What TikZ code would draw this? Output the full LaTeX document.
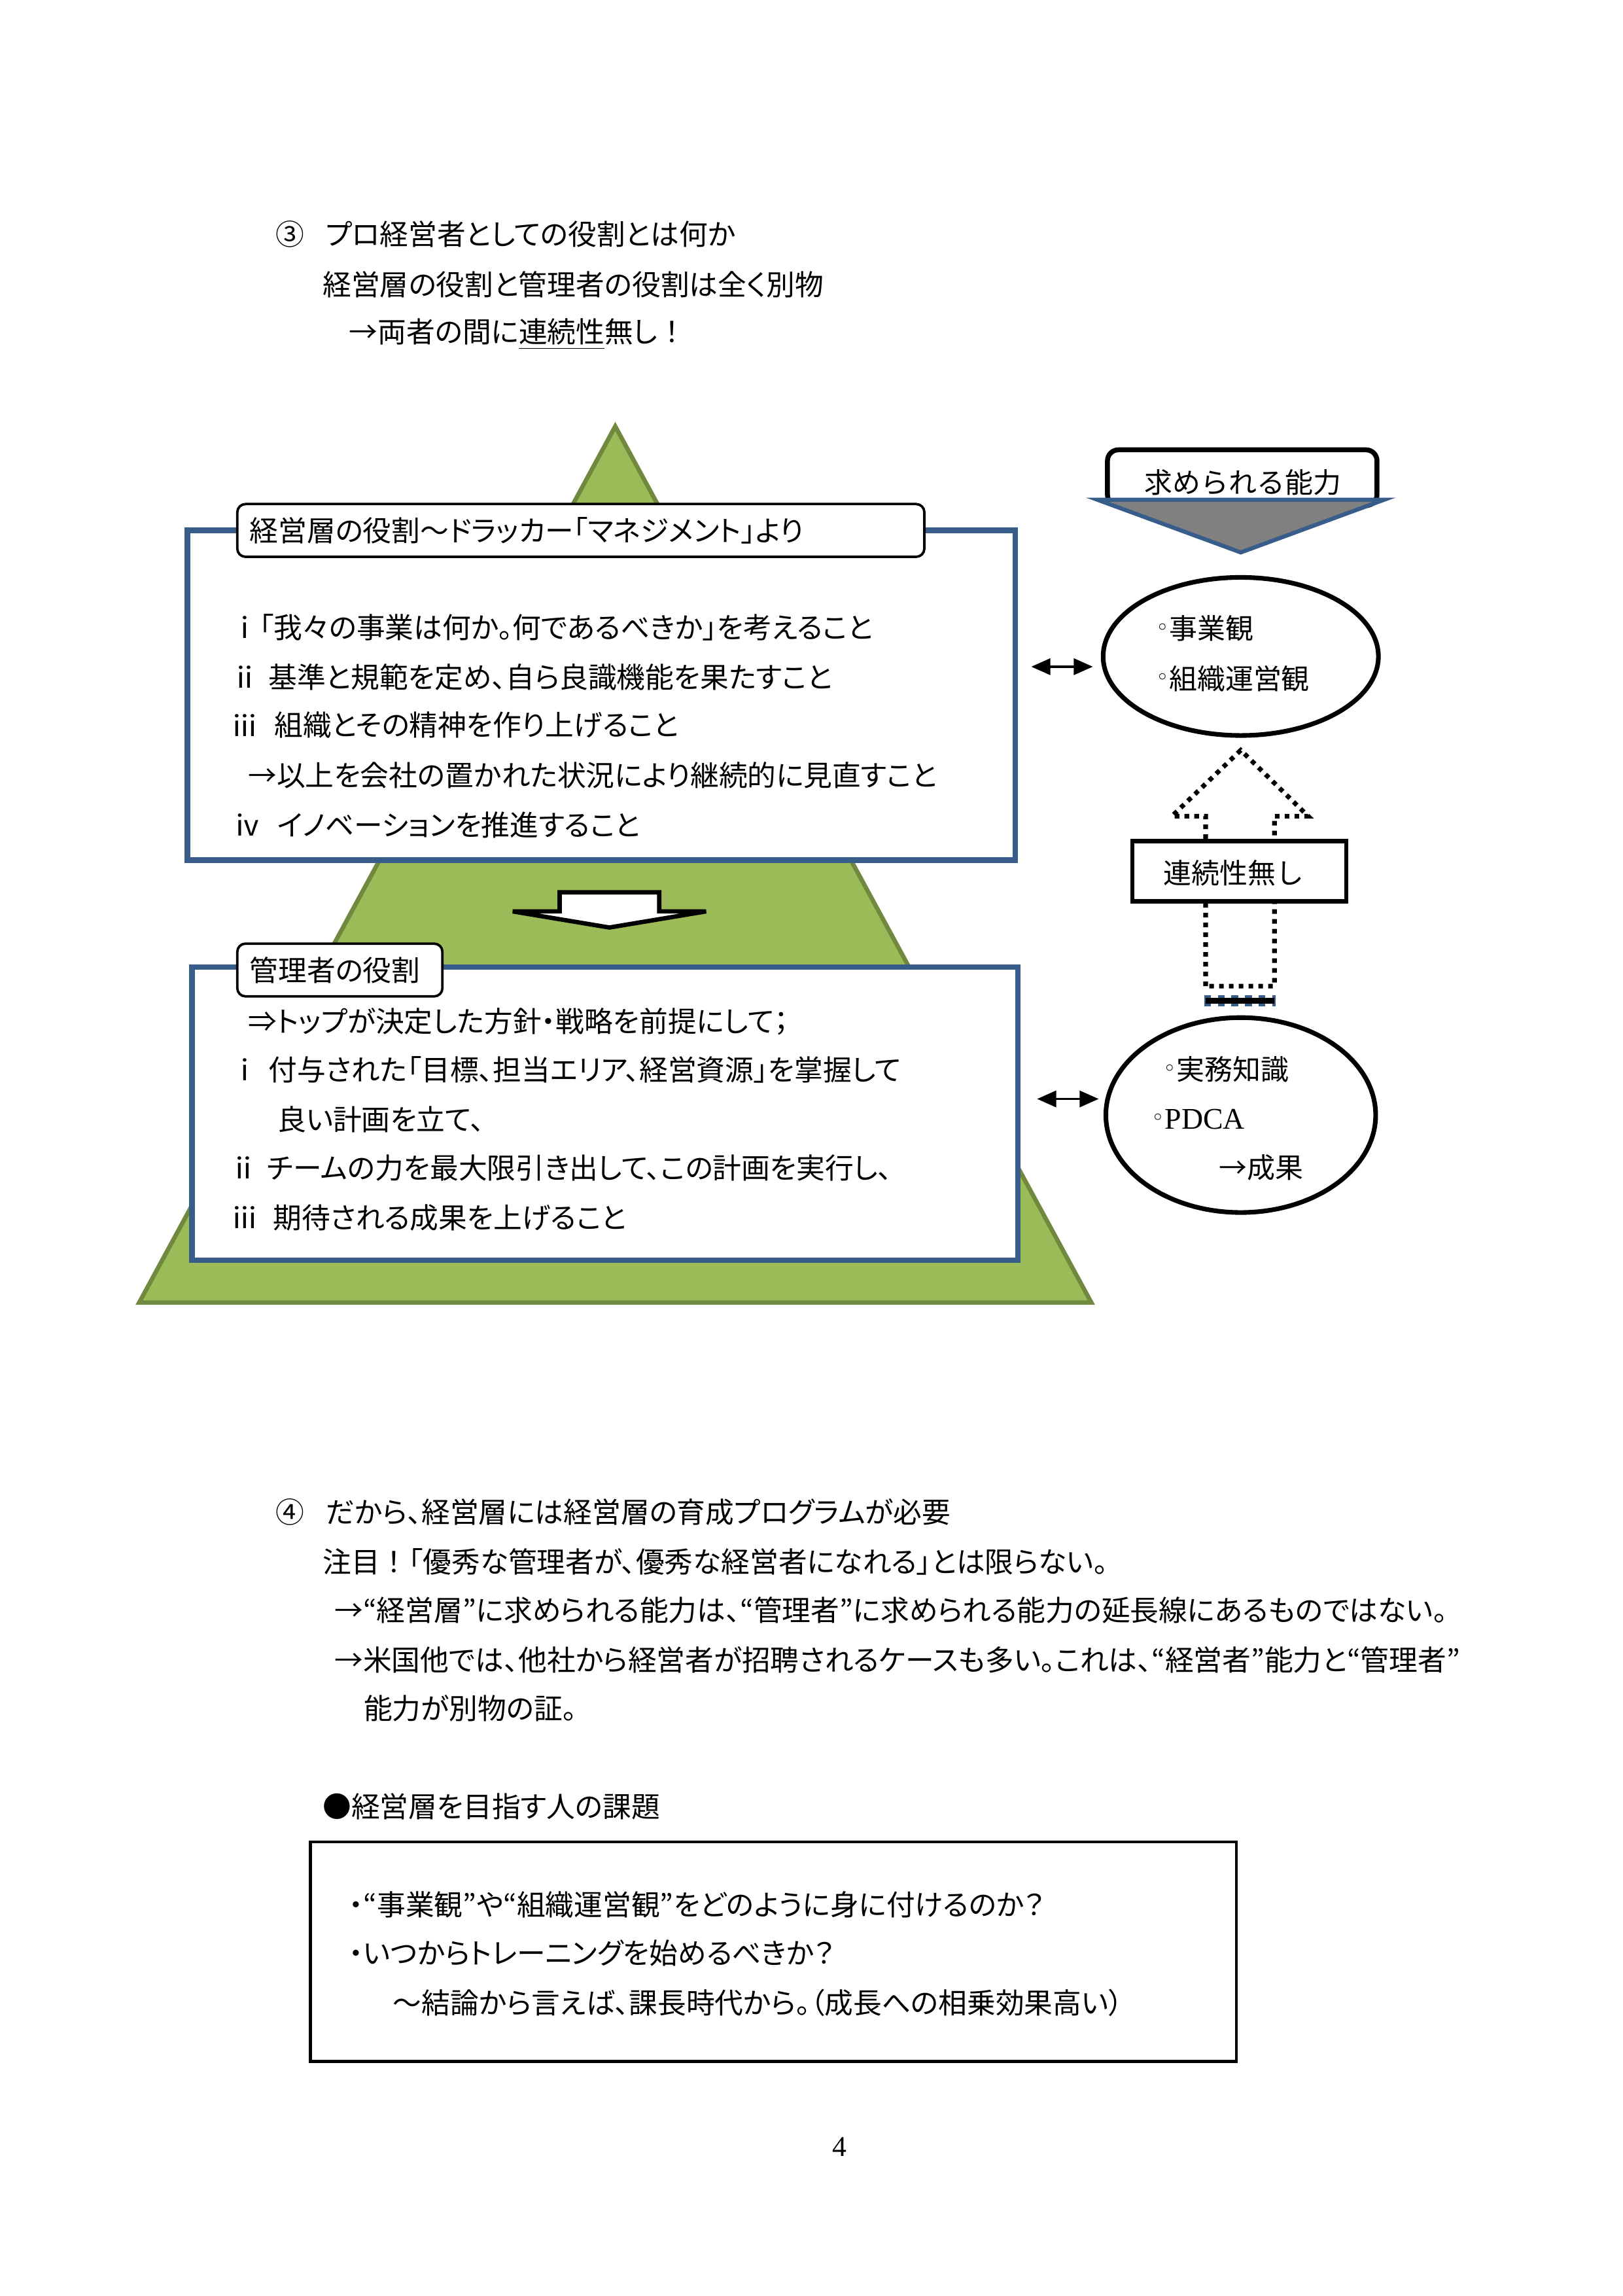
\documentclass[tikz,border=0pt]{standalone}
\usepackage{fontspec}
\setmainfont{Noto Sans CJK JP}[RawFeature=+palt]
\newfontfamily\jpfull{Noto Sans CJK JP}
\newfontfamily\serifx{Liberation Serif}
\newfontfamily\djv{DejaVu Sans}
\usetikzlibrary{arrows.meta,shapes.geometric}
\definecolor{pyrfill}{RGB}{155,187,89}
\definecolor{pyrline}{RGB}{113,137,63}
\definecolor{boxblue}{RGB}{56,93,138}
\definecolor{trigray}{RGB}{128,128,128}
\newcommand{\wb}{{\djv\fontsize{8}{9}\selectfont\raisebox{1.6pt}{◦}}}
\begin{document}
\begin{tikzpicture}[x=0.5375pt,y=-0.5375pt,
  txt/.style={anchor=west,inner sep=0pt,font=\fontsize{10.5}{12}\selectfont},
  rtxt/.style={anchor=west,inner sep=0pt,font=\jpfull\fontsize{10.3}{12}\selectfont},
  bluebox/.style={draw=boxblue,line width=2pt,fill=white},
  tagbox/.style={draw=black,line width=0.9pt,fill=white,rounded corners=3pt},
  dotline/.style={line width=1.7pt,dash pattern=on 1.7pt off 1.9pt},
  dblarrow/.style={{Triangle[length=7pt,width=6pt]}-{Triangle[length=7pt,width=6pt]},line width=0.8pt}]
\useasboundingbox (0,0) rectangle (1107.5,1567);
\fill[white] (0,0) rectangle (1107.5,1567);

% ---- heading 3
\node[txt] (h3n) at (188,160) {③};
\node[txt] (h3) at (222,160) {プロ経営者としての役割とは何か};
\node[txt] (h3b) at (220,194) {経営層の役割と管理者の役割は全く別物};
\node[txt] (h3c) at (238,228) {→両者の間に\underline{連続性}無し{\jpfull ！}};

% ---- pyramid
\draw[fill=pyrfill,draw=pyrline,line width=1.6pt] (420,291) -- (745,889) -- (95,889) -- cycle;

% ---- top box
\draw[bluebox] (128,362) rectangle (693,587);
\draw[tagbox] (162,344) rectangle (631,380);
\node[txt] (t0) at (170,362) {経営層の役割～ドラッカー「マネジメント」より};
\node[txt] (t1) at (157,428) {ⅰ「我々の事業は何か。何であるべきか」を考えること};
\node[txt] (t2n) at (157,462) {ⅱ};
\node[txt] (t2) at (183,462) {基準と規範を定め、自ら良識機能を果たすこと};
\node[txt] (t3n) at (157,495) {ⅲ};
\node[txt] (t3) at (187,495) {組織とその精神を作り上げること};
\node[txt] (t4) at (169,529) {→以上を会社の置かれた状況により継続的に見直すこと};
\node[txt] (t5n) at (159,563) {ⅳ};
\node[txt] (t5) at (189,563) {イノベーションを推進すること};

% ---- block arrow down
\draw[fill=white,draw=black,line width=1.6pt] (382,609) -- (450,609) -- (450,622) -- (482,622) -- (416,633) -- (350,622) -- (382,622) -- cycle;

% ---- lower box
\draw[bluebox] (131,660) rectangle (695,860);
\draw[tagbox] (162,644) rectangle (302,680);
\node[txt] (m0) at (170,662) {管理者の役割};
\node[txt] (m1) at (169,697) {⇒トップが決定した方針・戦略を前提にして；};
\node[txt] (m2n) at (157,730) {ⅰ};
\node[txt] (m2) at (183,730) {付与された「目標、担当エリア、経営資源」を掌握して};
\node[txt] (m3) at (189,764) {良い計画を立て、};
\node[txt] (m4n) at (156,797) {ⅱ};
\node[txt] (m4) at (182,797) {チームの力を最大限引き出して、この計画を実行し、};
\node[txt] (m5n) at (157,831) {ⅲ};
\node[txt] (m5) at (186,831) {期待される成果を上げること};

% ---- right column
\draw[draw=black,line width=1.8pt,fill=white,rounded corners=4pt] (756,307) rectangle (940,345);
\node[rtxt] (need) at (781,329) {求められる能力};
\draw[fill=trigray,draw=boxblue,line width=1.5pt] (749,341) -- (945,341) -- (847,377) -- cycle;

\node[draw,ellipse,line width=1.7pt,minimum width=101pt,minimum height=58pt,inner sep=0pt] (e1) at (847,448) {};
\node[rtxt] (e1a) at (789,429) {\wb 事業観};
\node[rtxt] (e1b) at (789,463) {\wb 組織運営観};

\coordinate (a1l) at (704,455);
\coordinate (a1r) at (746,455);
\draw[dblarrow] (a1l) -- (a1r);

% dotted arrow
\draw[dotline] (823,673) -- (823,557) -- (800,557) -- (847,512) -- (893,557) -- (870,557) -- (870,673) -- cycle;
\draw[draw=boxblue,line width=4.2pt,dash pattern=on 2.5pt off 2.5pt] (822,683) -- (871,683);
\draw[line width=2.2pt] (823,683) -- (870,683);
\draw[draw=black,line width=1.6pt,fill=white] (773,574) rectangle (919,615);
\node[rtxt] (nc) at (794,596) {連続性無し};

\node[draw,ellipse,line width=1.7pt,minimum width=99pt,minimum height=71.5pt,inner sep=0pt] (e2) at (847,761) {};
\node[rtxt] (e2a) at (794,730) {\wb 実務知識};
\node[rtxt] (e2b) at (786,764) {\wb{\serifx\fontsize{11}{13}\selectfont PDCA}};
\node[rtxt] (e2c) at (832,797) {→成果};

\coordinate (a2l) at (708,750);
\coordinate (a2r) at (750,750);
\draw[dblarrow] (a2l) -- (a2r);

% ---- heading 4
\node[txt] (h4n) at (188,1032) {④};
\node[txt] (h4) at (222,1032) {だから、経営層には経営層の育成プログラムが必要};
\node[txt] (h4a) at (220,1066) {注目{\jpfull ！}「優秀な管理者が、優秀な経営者になれる」とは限らない。};
\node[txt] (h4b) at (228,1099) {→“経営層”に求められる能力は、“管理者”に求められる能力の延長線にあるものではない。};
\node[txt] (h4c) at (228,1133) {→米国他では、他社から経営者が招聘されるケースも多い。これは、“経営者”能力と“管理者”};
\node[txt] (h4d) at (248,1166) {能力が別物の証。};

\node[txt] (k0) at (220,1233) {●経営層を目指す人の課題};
\draw[line width=1.1pt] (212,1257) rectangle (844,1407);
\node[txt] (k1) at (238,1300) {・“事業観”や“組織運営観”をどのように身に付けるのか？};
\node[txt] (k2) at (238,1333) {・いつからトレーニングを始めるべきか？};
\node[txt] (k3) at (268,1367) {～結論から言えば、課長時代から。（成長への相乗効果高い）};

\node[anchor=center,inner sep=0pt,font=\serifx\fontsize{10.5}{12}\selectfont] (pg) at (573,1465) {4};
\end{tikzpicture}
\end{document}
